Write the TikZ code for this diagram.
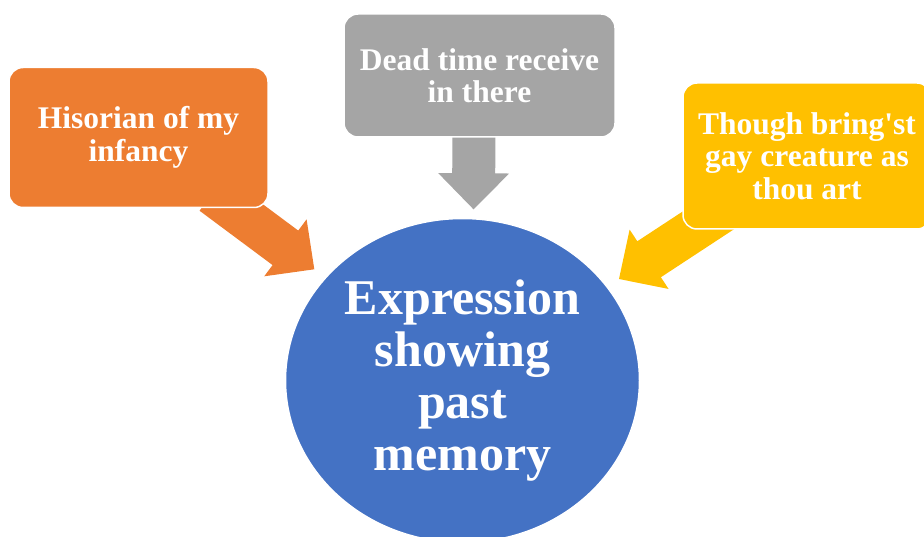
\documentclass[tikz,border=0pt]{standalone}
\usepackage{fontspec}
\setmainfont{Liberation Serif}[Ligatures=TeXOff]
\usetikzlibrary{calc,shapes.geometric}
\pgfdeclarelayer{background}
\pgfsetlayers{background,main}
\definecolor{corange}{HTML}{ED7D31}
\definecolor{cgray}{HTML}{A5A5A5}
\definecolor{cyellow}{HTML}{FFC000}
\definecolor{cblue}{HTML}{4472C4}
\newcommand\blockarr[4]{% name, colour, tail, tip
  \path ($(#4)!36pt!(#3)$) coordinate (#1h);
  \fill[#2] ($(#3)!21.5pt!90:(#4)$) -- ($(#1h)!21.5pt!-90:(#3)$) -- ($(#1h)!35.5pt!-90:(#3)$) -- (#4)
    -- ($(#1h)!35.5pt!90:(#3)$) -- ($(#1h)!21.5pt!90:(#3)$) -- ($(#3)!21.5pt!-90:(#4)$) -- cycle;
}
\tikzset{
  box/.style={draw=white, line width=1.5pt, rounded corners=14pt, align=center, inner sep=0pt,
    text=white, font=\fontsize{31.5}{32.4}\selectfont\bfseries},
  hub/.style={ellipse, draw=white, line width=1.5pt, fill=cblue, align=center, inner sep=0pt,
    text=white, font=\fontsize{50}{51.7}\selectfont\bfseries, minimum width=354pt, minimum height=324pt}
}
\begin{document}
\begin{tikzpicture}[x=1pt,y=-1pt]
\useasboundingbox (0,0) rectangle (924,537);
\clip (0,0) rectangle (924,537);
\node[box, fill=corange, minimum width=259pt, minimum height=140pt] (a) at (138.5,137.5) {Hisorian of my\\infancy};
\node[box, fill=cgray, minimum width=271pt, minimum height=123pt] (b) at (479.5,75.5) {Dead time receive\\in there};
\node[box, fill=cyellow, minimum width=248pt, minimum height=146pt] (c) at (807,156) {Though bring'st\\gay creature as\\thou art};
\node[hub] (m) at (462.5,380.5) {Expression\\showing\\past\\memory};
\coordinate (ta) at (212.4,193.5);
\coordinate (pa) at (314.3,269.3);
\coordinate (tb) at (474,125);
\coordinate (pb) at (473.5,209.3);
\coordinate (tc) at (725.2,209.3);
\coordinate (pc) at (619,279);
\begin{pgfonlayer}{background}
\blockarr{aa}{corange}{ta}{pa}
\blockarr{ab}{cgray}{tb}{pb}
\blockarr{ac}{cyellow}{tc}{pc}
\end{pgfonlayer}
\end{tikzpicture}
\end{document}
